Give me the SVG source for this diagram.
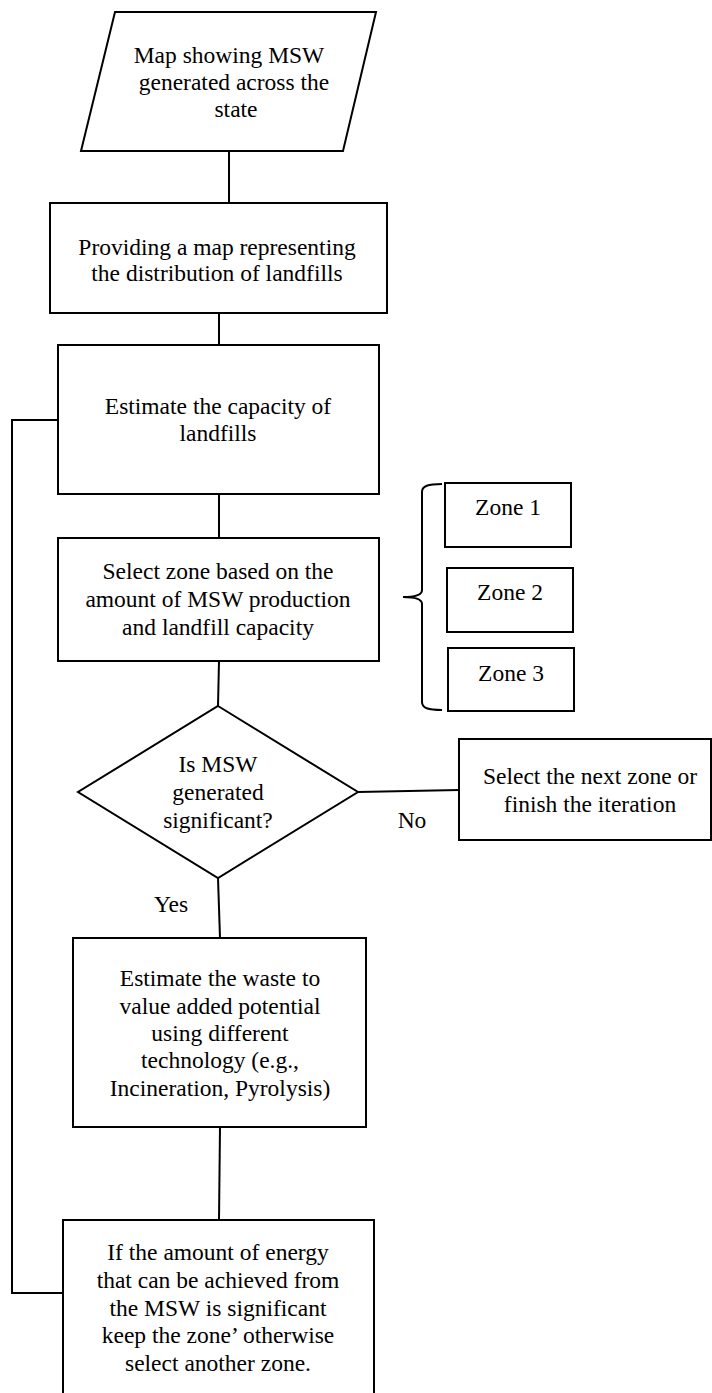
<svg xmlns="http://www.w3.org/2000/svg" width="712" height="1393" viewBox="0 0 712 1393" font-family="Liberation Serif" font-size="23.5">
<style>
.s{fill:#fff;stroke:#000;stroke-width:2}
.l{fill:none;stroke:#000;stroke-width:2}
text{fill:#000;text-anchor:middle}
</style>
<rect width="712" height="1393" fill="#fff"/>
<g id="connectors">
<line class="l" x1="229" y1="151" x2="229" y2="203"/>
<line class="l" x1="219" y1="313" x2="219" y2="345"/>
<line class="l" x1="219" y1="494" x2="219" y2="538"/>
<line class="l" x1="219" y1="661" x2="218" y2="706"/>
<line class="l" x1="358" y1="792" x2="459" y2="790"/>
<line class="l" x1="218" y1="878" x2="220" y2="938"/>
<line class="l" x1="220" y1="1127" x2="219" y2="1220"/>
<polyline class="l" points="58,420 12,420 12,1293 63,1293"/>
<path class="l" d="M442,484 C428,484 422,486 422,492 L422,590 C422,595 415,597 403,597 C415,597 422,599 422,604 L422,702 C422,708 428,710 442,710"/>
<text x="412" y="828">No</text>
<text x="171" y="912">Yes</text>
</g>
<g id="n1">
<polygon class="s" points="115,12 376,12 343,151 81,151"/>
<text x="229" y="63">Map showing MSW</text>
<text x="234" y="90">generated across the</text>
<text x="236" y="117">state</text>
</g>
<g id="n2">
<rect class="s" x="50" y="203" width="337" height="110"/>
<text x="217" y="255">Providing a map representing</text>
<text x="217" y="281">the distribution of landfills</text>
</g>
<g id="n3">
<rect class="s" x="58" y="345" width="321" height="149"/>
<text x="218" y="414">Estimate the capacity of</text>
<text x="218" y="441">landfills</text>
</g>
<g id="n4">
<rect class="s" x="58" y="538" width="321" height="123"/>
<text x="218" y="579">Select zone based on the</text>
<text x="218" y="607">amount of MSW production</text>
<text x="218" y="635">and landfill capacity</text>
</g>
<g id="z1">
<rect class="s" x="445" y="483" width="126" height="64"/>
<text x="508" y="515">Zone 1</text>
</g>
<g id="z2">
<rect class="s" x="447" y="568" width="126" height="64"/>
<text x="510" y="600">Zone 2</text>
</g>
<g id="z3">
<rect class="s" x="448" y="648" width="126" height="63"/>
<text x="511" y="681">Zone 3</text>
</g>
<g id="n5">
<polygon class="s" points="218,706 358,792 218,878 78,792"/>
<text x="218" y="772">Is MSW</text>
<text x="218" y="800">generated</text>
<text x="218" y="828">significant?</text>
</g>
<g id="n6">
<rect class="s" x="459" y="739" width="252" height="101"/>
<text x="590" y="784">Select the next zone or</text>
<text x="590" y="812">finish the iteration</text>
</g>
<g id="n7">
<rect class="s" x="73" y="938" width="293" height="189"/>
<text x="220" y="986">Estimate the waste to</text>
<text x="220" y="1014">value added potential</text>
<text x="220" y="1041">using different</text>
<text x="220" y="1068">technology (e.g.,</text>
<text x="220" y="1096">Incineration, Pyrolysis)</text>
</g>
<g id="n8">
<rect class="s" x="63" y="1220" width="311" height="185"/>
<text x="218" y="1260">If the amount of energy</text>
<text x="218" y="1288">that can be achieved from</text>
<text x="218" y="1316">the MSW is significant</text>
<text x="218" y="1343">keep the zone’ otherwise</text>
<text x="218" y="1371">select another zone.</text>
</g>
</svg>
